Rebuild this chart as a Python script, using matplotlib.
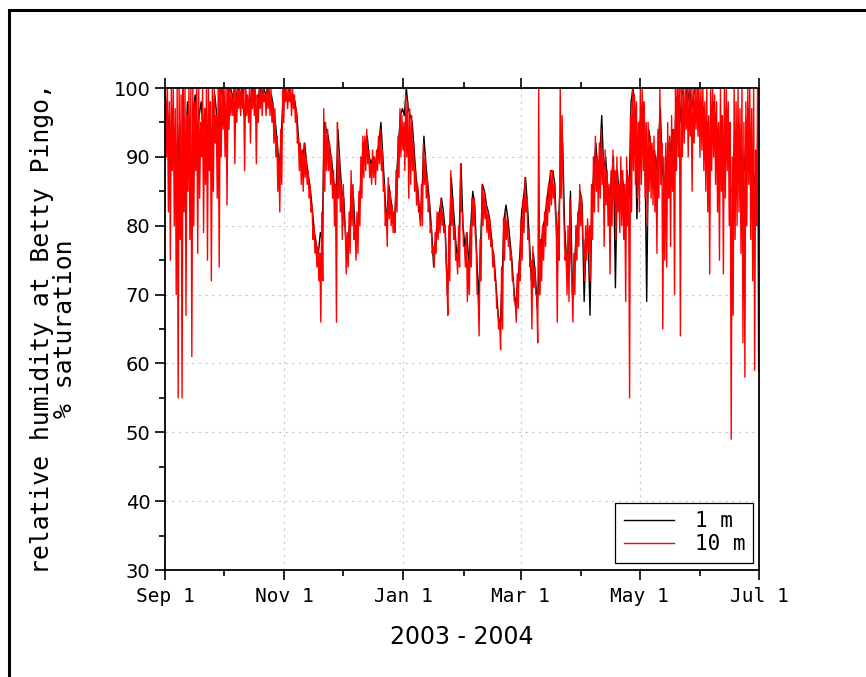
#!/usr/bin/env python3

import datetime as dt
import matplotlib
matplotlib.use("Agg")
import matplotlib.pyplot as plt
import matplotlib.dates as mdates
from matplotlib.ticker import MultipleLocator, FuncFormatter
from matplotlib.patches import Rectangle
import numpy as np

# daily max / min of the 10 m sensor and daily value of the 1 m sensor (% RH)
# Sep 2003
rh10_max_sep = [100, 100, 98, 100, 100, 97, 100, 100, 99, 100, 100, 96, 100, 100, 100,
                98, 100, 100, 95, 100, 97, 100, 100, 98, 100, 100, 96, 100, 100, 100]
rh10_min_sep = [90, 82, 75, 88, 80, 70, 55, 78, 55, 82, 67, 85, 78, 61, 80,
                88, 76, 84, 90, 79, 86, 75, 88, 72, 85, 92, 84, 74, 90, 94]
rh1_sep = [98, 96, 90, 97, 94, 92, 88, 95, 85, 96, 90, 98, 95, 86, 97,
           99, 93, 96, 98, 94, 97, 92, 97, 90, 96, 99, 96, 93, 99, 100]
# Oct 2003
rh10_max_oct = [100, 100, 100, 100, 99, 100, 100, 100, 100, 100, 100, 100, 99, 100, 100, 100,
                100, 99, 100, 100, 100, 99, 100, 100, 100, 98, 97, 93, 90, 94, 100]
rh10_min_oct = [90, 83, 94, 96, 96, 89, 95, 97, 96, 97, 88, 96, 95, 92, 97, 96,
                89, 95, 97, 96, 98, 96, 97, 96, 95, 92, 90, 85, 82, 86, 95]
rh1_oct = [98, 95, 99, 100, 99, 97, 99, 100, 99, 100, 96, 99, 98, 97, 100, 99,
           96, 98, 100, 99, 100, 99, 100, 99, 99, 97, 95, 92, 88, 93, 99]
# Nov 2003
rh10_max_nov = [100, 100, 100, 100, 100, 99, 97, 93, 92, 91, 92, 90, 88, 86, 83,
                80, 78, 77, 76, 82, 97, 95, 94, 92, 90, 88, 86, 95, 90, 86]
rh10_min_nov = [98, 97, 98, 96, 97, 95, 92, 88, 86, 85, 87, 86, 84, 82, 78,
                76, 74, 72, 66, 72, 85, 88, 88, 86, 84, 80, 66, 84, 82, 78]
rh1_nov = [100, 100, 100, 99, 99, 98, 96, 92, 91, 90, 92, 89, 87, 85, 82,
           79, 77, 76, 79, 78, 95, 94, 93, 91, 89, 86, 84, 94, 89, 85]
# Dec 2003
rh10_max_dec = [86, 80, 79, 82, 88, 86, 80, 82, 85, 90, 93, 93, 94, 91, 89, 91,
                90, 91, 93, 94, 91, 86, 82, 87, 85, 83, 82, 88, 93, 97, 96]
rh10_min_dec = [80, 73, 74, 76, 80, 78, 75, 76, 80, 84, 87, 88, 89, 87, 86, 87,
                86, 88, 89, 88, 85, 80, 77, 81, 80, 79, 79, 82, 87, 90, 91]
rh1_dec = [84, 78, 77, 80, 86, 84, 78, 80, 83, 88, 92, 92, 93, 90, 89, 90,
           89, 90, 92, 95, 90, 85, 80, 86, 84, 82, 81, 87, 92, 96, 97]
# Jan 2004
rh10_max_jan = [95, 99, 98, 97, 96, 92, 88, 86, 82, 86, 92, 90, 87, 84, 80, 77,
                79, 82, 82, 84, 82, 80, 72, 80, 88, 84, 80, 76, 80, 89, 82]
rh10_min_jan = [88, 90, 84, 86, 88, 85, 83, 82, 80, 80, 86, 84, 82, 79, 76, 74,
                76, 78, 79, 80, 79, 76, 67, 72, 80, 78, 75, 73, 74, 82, 77]
rh1_jan = [96, 100, 97, 96, 95, 91, 87, 85, 81, 84, 93, 89, 86, 83, 79, 74,
           78, 81, 82, 84, 82, 79, 70, 77, 87, 83, 79, 75, 78, 89, 80]
# Feb 2004
rh10_max_feb = [77, 79, 75, 80, 84, 84, 77, 70, 78, 86, 85, 83, 82, 81, 78,
                76, 72, 68, 66, 74, 81, 82, 81, 78, 76, 72, 69, 73, 75]
rh10_min_feb = [74, 69, 70, 74, 80, 79, 70, 64, 72, 80, 81, 79, 78, 77, 74,
                72, 68, 65, 62, 65, 75, 78, 77, 75, 72, 69, 66, 68, 72]
rh1_feb = [77, 79, 74, 80, 85, 83, 76, 69, 77, 86, 85, 83, 82, 80, 77,
           75, 71, 67, 65, 72, 81, 83, 81, 78, 75, 71, 68, 72, 75]
# Mar 2004
rh10_max_mar = [81, 84, 87, 84, 79, 75, 77, 74, 70, 100, 78, 80, 82, 84, 86, 88,
                88, 86, 80, 82, 100, 96, 80, 76, 80, 84, 72, 76, 80, 82, 86]
rh10_min_mar = [75, 79, 82, 78, 74, 65, 71, 70, 63, 70, 72, 75, 77, 80, 82, 83,
                84, 82, 66, 75, 84, 85, 75, 70, 69, 75, 66, 70, 75, 77, 80]
rh1_mar = [82, 84, 87, 83, 78, 72, 76, 73, 68, 74, 77, 80, 81, 84, 86, 88,
           88, 86, 78, 81, 88, 92, 80, 75, 73, 85, 70, 74, 79, 81, 85]
# Apr 2004
rh10_max_apr = [84, 78, 80, 81, 80, 86, 90, 93, 90, 92, 94, 90, 91, 88, 86,
                88, 91, 88, 90, 86, 90, 88, 86, 90, 87, 96, 100, 99, 98, 95]
rh10_min_apr = [78, 72, 75, 76, 72, 78, 82, 85, 82, 84, 86, 77, 83, 80, 73,
                80, 84, 78, 82, 79, 80, 78, 69, 80, 55, 82, 88, 86, 84, 82]
rh1_apr = [83, 69, 78, 79, 67, 84, 88, 92, 88, 90, 96, 88, 90, 86, 84,
           87, 90, 71, 88, 84, 88, 86, 82, 88, 84, 98, 100, 97, 81, 93]
# May 2004
rh10_max_may = [100, 100, 98, 95, 95, 93, 92, 93, 90, 94, 100, 92, 90, 92, 95, 93,
                96, 94, 100, 100, 100, 100, 100, 100, 100, 100, 100, 100, 100, 100, 100]
rh10_min_may = [86, 88, 84, 80, 85, 84, 83, 82, 76, 84, 86, 65, 75, 74, 84, 77,
                85, 70, 88, 90, 64, 90, 92, 94, 90, 93, 85, 92, 94, 93, 90]
rh1_may = [96, 98, 94, 69, 94, 92, 90, 91, 88, 92, 97, 88, 86, 88, 92, 90,
           94, 88, 98, 99, 95, 99, 100, 100, 98, 100, 97, 99, 100, 100, 97]
# Jun 2004
rh10_max_jun = [100, 100, 98, 100, 96, 100, 100, 99, 98, 95, 100, 96, 100, 100, 98,
                95, 90, 100, 98, 100, 97, 100, 95, 98, 100, 100, 97, 100, 91, 100]
rh10_min_jun = [91, 88, 85, 82, 73, 88, 90, 86, 82, 75, 85, 73, 84, 88, 80,
                49, 67, 78, 80, 82, 76, 63, 58, 80, 86, 78, 72, 59, 80, 59]
rh1_jun = [98, 97, 95, 95, 90, 97, 98, 96, 94, 90, 96, 88, 96, 97, 93,
           85, 85, 93, 94, 95, 92, 90, 88, 94, 97, 93, 90, 86, 88, 80]

rh10_max = (rh10_max_sep + rh10_max_oct + rh10_max_nov + rh10_max_dec + rh10_max_jan
            + rh10_max_feb + rh10_max_mar + rh10_max_apr + rh10_max_may + rh10_max_jun)
rh10_min = (rh10_min_sep + rh10_min_oct + rh10_min_nov + rh10_min_dec + rh10_min_jan
            + rh10_min_feb + rh10_min_mar + rh10_min_apr + rh10_min_may + rh10_min_jun)
rh1 = (rh1_sep + rh1_oct + rh1_nov + rh1_dec + rh1_jan
       + rh1_feb + rh1_mar + rh1_apr + rh1_may + rh1_jun)

start = dt.datetime(2003, 9, 1)
end = dt.datetime(2004, 7, 1)
t0 = mdates.date2num(start)
ndays = len(rh1)

# two readings a day for the 10 m sensor (max then min), one for the 1 m sensor
t10 = np.empty(2 * ndays)
t10[0::2] = t0 + np.arange(ndays) + 0.25
t10[1::2] = t0 + np.arange(ndays) + 0.75
y10 = np.empty(2 * ndays)
y10[0::2] = rh10_max
y10[1::2] = rh10_min
t1 = t0 + np.arange(ndays) + 0.5

fig = plt.figure(figsize=(8.66, 6.77), dpi=100)
ax = fig.add_axes([0.1905, 0.158, 0.686, 0.712])

ax.plot(t1, rh1, color="black", lw=1.0, label="1 m")
ax.plot(t10, y10, color="red", lw=1.0, label="10 m")

ax.set_xlim(mdates.date2num(start), mdates.date2num(end))
ax.set_ylim(30, 100)

ax.xaxis.set_major_locator(mdates.MonthLocator(bymonth=[1, 3, 5, 7, 9, 11]))
ax.xaxis.set_minor_locator(mdates.MonthLocator())
ax.xaxis.set_major_formatter(FuncFormatter(
    lambda x, pos: mdates.num2date(x).strftime("%b") + " " + str(mdates.num2date(x).day)))
ax.yaxis.set_major_locator(MultipleLocator(10))
ax.yaxis.set_minor_locator(MultipleLocator(5))

ax.tick_params(which="both", direction="out", top=True, right=False, width=1.2)
ax.tick_params(which="major", length=7)
ax.tick_params(which="minor", length=4)
ax.tick_params(axis="x", pad=5)
for lab in ax.get_xticklabels():
    lab.set_fontfamily("DejaVu Sans Mono")
    lab.set_fontsize(14)
for lab in ax.get_yticklabels():
    lab.set_fontfamily("DejaVu Sans")
    lab.set_fontsize(14)

for s in ax.spines.values():
    s.set_linewidth(1.3)

ax.grid(True, which="major", color="#c8c8c8", linestyle=(0, (2, 4)), lw=0.8)

ax.set_ylabel("relative humidity at Betty Pingo,\n% saturation",
              family="DejaVu Sans Mono", fontsize=17.8, linespacing=0.95, labelpad=26)
ax.set_xlabel("2003 - 2004", family="DejaVu Sans", fontsize=17, labelpad=14)

leg = ax.legend(loc="lower right", prop={"family": "DejaVu Sans Mono", "size": 15},
                fancybox=False, edgecolor="black", framealpha=1,
                handlelength=2.4, handletextpad=1.0, borderpad=0.4, labelspacing=0.15,
                bbox_to_anchor=(1.008, -0.006))
leg.get_frame().set_linewidth(0.9)

# outer frame around the figure
fig.patches.append(Rectangle((9 / 866, -0.5), 2, 1.5 - 10 / 677, transform=fig.transFigure,
                             fill=False, edgecolor="black", lw=2.2))

plt.savefig("out.png", dpi=100)
